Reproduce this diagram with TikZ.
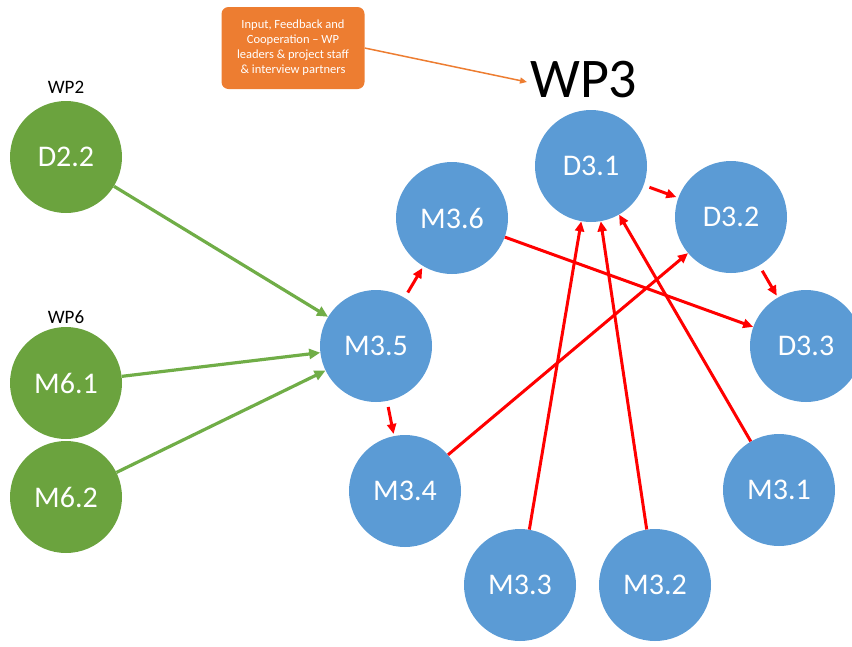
\documentclass[tikz,border=0pt]{standalone}
\usepackage{fontspec}
\setmainfont{Carlito}
\usetikzlibrary{arrows.meta}
\definecolor{gfill}{HTML}{6BA33E}
\definecolor{garrow}{HTML}{70AD47}
\definecolor{bfill}{HTML}{5B9BD5}
\definecolor{ofill}{HTML}{ED7D31}
\definecolor{rline}{HTML}{FF0000}
\tikzset{
  gnode/.style={circle,fill=gfill,minimum size=112pt,inner sep=0pt,text=white,font=\fontsize{30}{32}\selectfont},
  bnode/.style={circle,fill=bfill,minimum size=112pt,inner sep=0pt,text=white,font=\fontsize{30}{32}\selectfont},
  garr/.style={draw=garrow,line width=3.2pt,-{Triangle[length=11pt,width=10pt]}},
  rarr/.style={draw=rline,line width=3pt,-{Triangle[length=10pt,width=9pt]}},
  oarr/.style={draw=ofill,line width=1.5pt,-{Triangle[length=7pt,width=6pt]}},
  wplabel/.style={font=\fontsize{19}{20}\selectfont},
}
\begin{document}
\begin{tikzpicture}[x=1pt,y=-1pt]
\useasboundingbox (0,0) rectangle (852,646);
% green nodes
\node[wplabel] (wp2) at (66,87) {WP2};
\node[gnode] (d22) at (66,157) {D2.2};
\node[wplabel] (wp6) at (66,317) {WP6};
\node[gnode] (m61) at (66,383) {M6.1};
\node[gnode] (m62) at (66,497) {M6.2};
% blue nodes
\node[bnode] (m35) at (376,346) {M3.5};
\node[bnode] (m36) at (452,218) {M3.6};
\node[bnode] (d31) at (591,166) {D3.1};
\node[bnode] (d32) at (731,217) {D3.2};
\node[bnode] (d33) at (806,346) {D3.3};
\node[bnode] (m34) at (405,491) {M3.4};
\node[bnode] (m33) at (520,585) {M3.3};
\node[bnode] (m32) at (655,585) {M3.2};
\node[bnode] (m31) at (779,490) {M3.1};
% title
\node[font=\fontsize{56}{60}\selectfont,anchor=west,inner sep=0pt] (wp3) at (530,80) {WP3};
\node[fill=ofill,rounded corners=7pt,minimum width=143pt,minimum height=82pt,align=center,text=white,font=\fontsize{12.5}{15}\selectfont,inner sep=2pt] (box) at (293,48) {Input, Feedback and\\Cooperation -- WP\\leaders \& project staff\\\& interview partners};
\coordinate (wp3in) at (527,82);
\draw[oarr] (box.east) -- (wp3in);
% green arrows
\draw[garr] (d22) -- (m35);
\draw[garr] (m61) -- (m35);
\draw[garr] (m62) -- (m35);
% red arrows
\draw[rarr,shorten <=6pt,shorten >=2pt] (m35) -- (m36);
\draw[rarr,shorten <=6pt,shorten >=2pt] (m35) -- (m34);
\draw[rarr,shorten <=6pt,shorten >=2pt] (d31) -- (d32);
\draw[rarr,shorten <=6pt,shorten >=2pt] (d32) -- (d33);
\draw[rarr] (m36) -- (d33);
\draw[rarr] (m34) -- (d32);
\draw[rarr] (m33) -- (d31.-100);
\draw[rarr] (m32) -- (d31.-80);
\draw[rarr] (m31) -- (d31.-60);
\end{tikzpicture}
\end{document}
